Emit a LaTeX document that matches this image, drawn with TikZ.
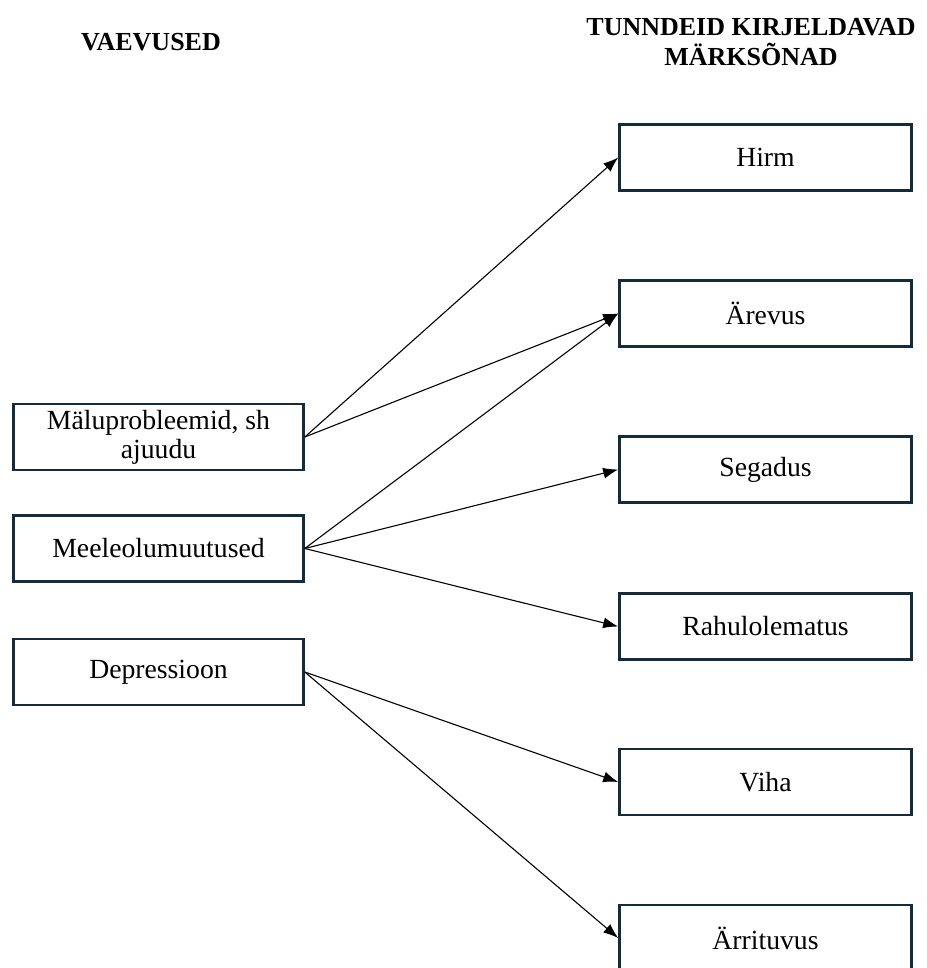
\documentclass[tikz,border=0pt]{standalone}
\usepackage{fontspec}
\setmainfont{Liberation Serif}
\usetikzlibrary{arrows.meta}
\definecolor{boxline}{HTML}{132B3A}
\begin{document}
\begin{tikzpicture}[x=1pt,y=-1pt,
  box/.style={draw=boxline,line width=2.6pt,fill=white,inner sep=0pt,
    minimum height=66pt,align=center,font=\fontsize{27.7}{29}\selectfont},
  lbox/.style={box,minimum width=290pt},
  rbox/.style={box,minimum width=292pt},
  head/.style={align=center,font=\fontsize{26}{30}\selectfont\bfseries},
  conn/.style={line width=1.1pt,-{Latex[length=15pt,width=11pt]}}]
\useasboundingbox (0,0) rectangle (926,968);
\node[head] (h1) at (151,42) {VAEVUSED};
\node[head] (h2) at (751,42) {TUNNDEID KIRJELDAVAD\\MÄRKSÕNAD};
\node[lbox] (malu) at (158.5,437) {Mäluprobleemid, sh\\ajuudu};
\node[lbox] (meel) at (158.5,548.5) {Meeleolumuutused};
\node[lbox] (depr) at (158.5,672) {Depressioon};
\node[rbox] (hirm) at (765.5,157.5) {Hirm};
\node[rbox] (arev) at (765.5,313.5) {Ärevus};
\node[rbox] (sega) at (765.5,469.5) {Segadus};
\node[rbox] (rahu) at (765.5,626.5) {Rahulolematus};
\node[rbox] (viha) at (765.5,782) {Viha};
\node[rbox] (arri) at (765.5,938) {Ärrituvus};
\draw[conn] (malu.east) -- (hirm.west);
\draw[conn] (malu.east) -- (arev.west);
\draw[conn] (meel.east) -- (arev.west);
\draw[conn] (meel.east) -- (sega.west);
\draw[conn] (meel.east) -- (rahu.west);
\draw[conn] (depr.east) -- (viha.west);
\draw[conn] (depr.east) -- (arri.west);
\end{tikzpicture}
\end{document}
